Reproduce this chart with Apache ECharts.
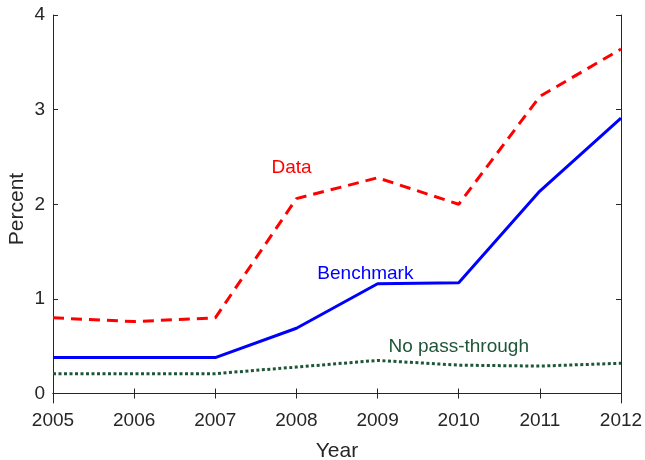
<!DOCTYPE html>
<html><head><meta charset="utf-8">
<script src="https://cdn.jsdelivr.net/npm/echarts@6/dist/echarts.min.js"></script>
<style>html,body{margin:0;padding:0;background:#fff}#c{width:645px;height:460px}</style>
</head><body><div id="c"></div>
<script>
const years = [2005, 2006, 2007, 2008, 2009, 2010, 2011, 2012];
const dataSeries = [0.80, 0.76, 0.80, 2.06, 2.28, 2.00, 3.14, 3.64];
const benchmark = [0.38, 0.38, 0.38, 0.69, 1.16, 1.17, 2.14, 2.91];
const noPassThrough = [0.21, 0.21, 0.21, 0.28, 0.35, 0.30, 0.29, 0.32];
const yTicks = [0, 1, 2, 3, 4];
const labelData = {name: 'Data', coord: [2007.94, 2.39]};
const labelBench = {name: 'Benchmark', coord: [2008.85, 1.27]};
const labelNoPass = {name: 'No pass-through', coord: [2010.0, 0.495]};

const font = 'Liberation Sans, Arial, Helvetica, sans-serif';
const axisCol = '#262626';
const pairs = arr => years.map((y, i) => [y, arr[i]]);
function textMark(lbl, color) {
  return {
    symbol: 'circle', symbolSize: 0, silent: true,
    label: {show: true, position: 'inside', formatter: lbl.name, color: color, fontSize: 19, fontFamily: font},
    data: [{coord: lbl.coord, value: lbl.name}]
  };
}
const chart = echarts.init(document.getElementById('c'), null, {renderer: 'canvas'});
const xBase = {type: 'value', min: 2005, max: 2012, interval: 1, splitLine: {show: false}};
const yBase = {type: 'value', min: -0.1, max: 4, splitLine: {show: false}};
chart.setOption({
  animation: false,
  backgroundColor: '#fff',
  grid: {left: 53, right: 24, top: 15, bottom: 57, containLabel: false, outerBoundsMode: 'none'},
  xAxis: [
    Object.assign({}, xBase, {
      position: 'bottom',
      name: 'Year', nameLocation: 'middle', nameGap: 38, nameMoveOverlap: false,
      nameTextStyle: {color: axisCol, fontSize: 21, fontFamily: font},
      axisLine: {show: true, lineStyle: {color: axisCol, width: 1}},
      axisTick: {show: true, inside: true, length: 5, lineStyle: {color: axisCol}},
      axisLabel: {color: axisCol, fontSize: 19, fontFamily: font, margin: 8, formatter: v => String(v)}
    }),
    Object.assign({}, xBase, {
      position: 'top',
      axisLine: {show: true, lineStyle: {color: axisCol, width: 1}},
      axisTick: {show: true, inside: true, length: 5, lineStyle: {color: axisCol}},
      axisLabel: {show: false}
    })
  ],
  yAxis: [
    Object.assign({}, yBase, {
      position: 'left',
      name: 'Percent', nameLocation: 'middle', nameGap: 25, nameRotate: 90, nameMoveOverlap: false,
      nameTextStyle: {color: axisCol, fontSize: 21, fontFamily: font},
      axisLine: {show: true, lineStyle: {color: axisCol, width: 1}},
      axisTick: {show: true, inside: true, length: 5, customValues: yTicks, lineStyle: {color: axisCol}},
      axisLabel: {color: axisCol, fontSize: 19, fontFamily: font, margin: 8, customValues: yTicks}
    }),
    Object.assign({}, yBase, {
      position: 'right',
      axisLine: {show: true, lineStyle: {color: axisCol, width: 1}},
      axisTick: {show: true, inside: true, length: 5, customValues: yTicks, lineStyle: {color: axisCol}},
      axisLabel: {show: false}
    })
  ],
  series: [
    {
      name: 'Data', type: 'line', data: pairs(dataSeries), showSymbol: false, symbol: 'none',
      lineStyle: {color: '#ff0000', width: 3, type: [11, 7]},
      markPoint: textMark(labelData, '#ff0000')
    },
    {
      name: 'Benchmark', type: 'line', data: pairs(benchmark), showSymbol: false, symbol: 'none',
      lineStyle: {color: '#0000ff', width: 3},
      markPoint: textMark(labelBench, '#0000ff')
    },
    {
      name: 'No pass-through', type: 'line', data: pairs(noPassThrough), showSymbol: false, symbol: 'none',
      lineStyle: {color: '#1e5637', width: 3, type: [3, 2.5]},
      markPoint: textMark(labelNoPass, '#1e5637')
    }
  ]
});
</script>
</body></html>
